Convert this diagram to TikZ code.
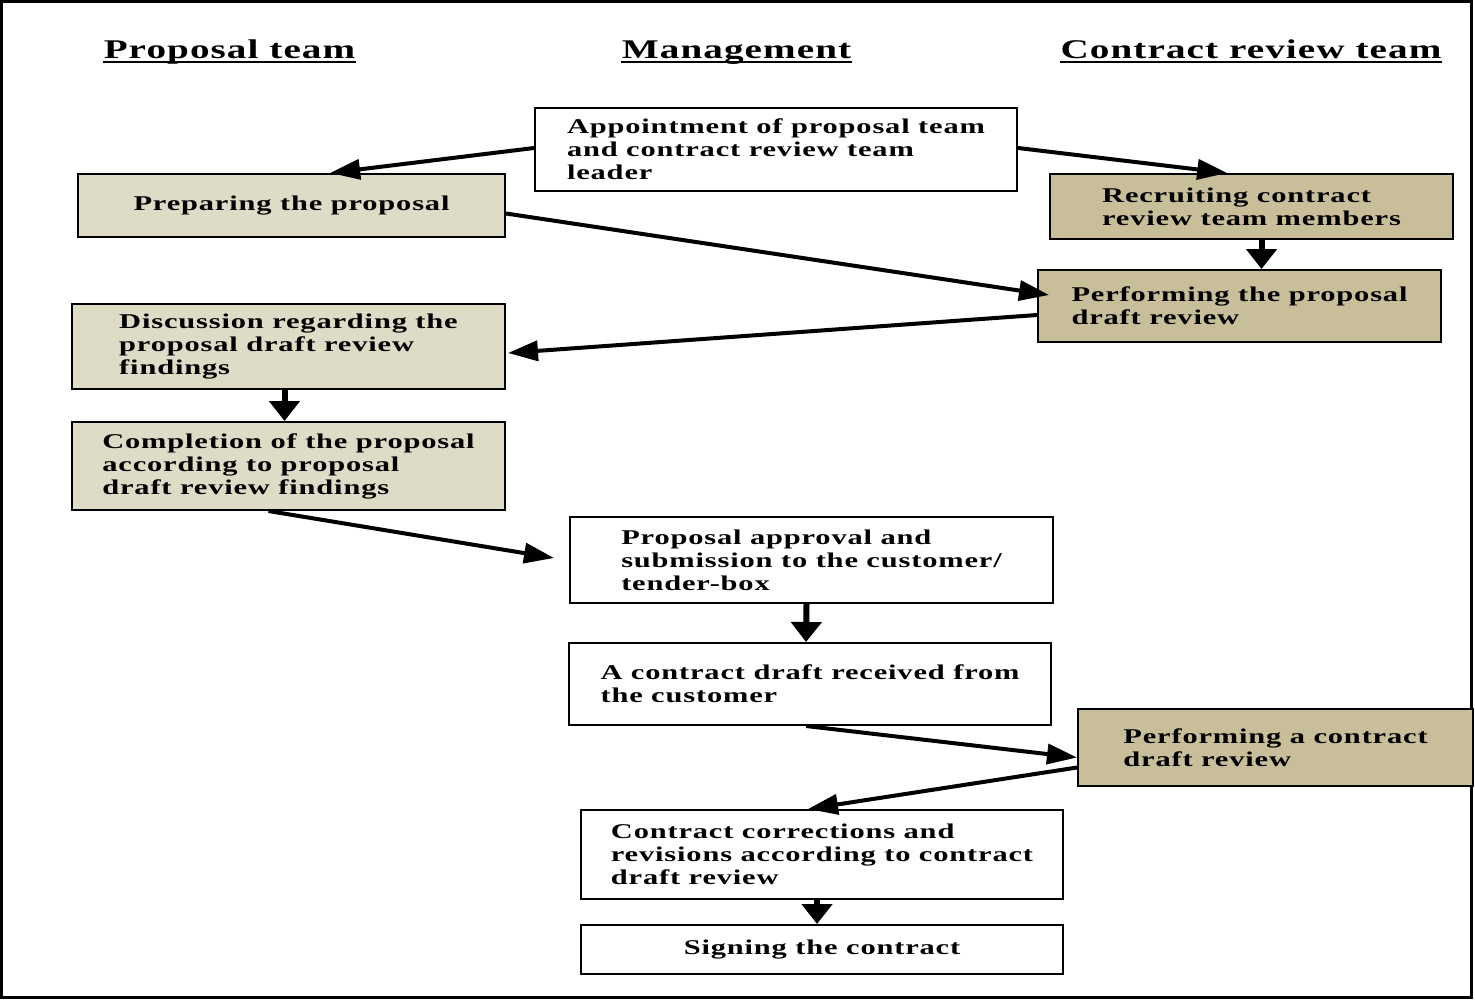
\documentclass[tikz,border=0pt]{standalone}
\usepackage{fontspec}
\setmainfont{Liberation Serif}[FakeStretch=1.45,LetterSpace=4]
\usetikzlibrary{arrows.meta,positioning,calc}
\definecolor{lightkhaki}{RGB}{222,219,198}
\definecolor{darkkhaki}{RGB}{200,191,154}

\begin{document}
\begin{tikzpicture}[x=0.5pt,y=-0.5pt,
    box/.style={draw, line width=1pt, align=left, inner sep=0pt,
        font=\bfseries\fontsize{10.5}{11.5}\selectfont},
    head/.style={inner sep=0pt, anchor=base, font=\bfseries\fontsize{13.5}{15}\selectfont},
    flowh/.style={line width=2pt, -{Triangle[length=15pt,width=10pt]}},
    flowv/.style={line width=3pt, -{Triangle[length=10pt,width=15pt]}}]

        % page and frame
        \fill[white] (0,0) rectangle (1475,1000);
        \useasboundingbox (0,0) rectangle (1475,1000);
        \draw[line width=1.5pt] (1.5,1.5) rectangle (1471,997);

        % column headings
        \node[head] (hdrprop) at (229.5,59) {Proposal team};
        \node[head] (hdrmgmt) at (736.5,59) {Management};
        \node[head] (hdrcrt) at (1251,59) {Contract review team};
        \foreach \h in {hdrprop,hdrmgmt,hdrcrt}
            \draw[line width=0.8pt] ($(\h.base west)+(0,3)$) -- ($(\h.base east)+(0,3)$);

        % management
        \node[box, fill=white, minimum width=241pt, minimum height=41.5pt] (appoint) at (776,149.5)
            {Appointment of proposal team\\and contract review team\\leader};
        \node[box, fill=white, minimum width=241.5pt, minimum height=43pt] (approve) at (811.5,560)
            {Proposal approval and\\submission to the customer/\\tender-box};
        \node[box, fill=white, minimum width=241pt, minimum height=41pt] (received) at (810,684)
            {A contract draft received from\\the customer};
        \node[box, fill=white, minimum width=241pt, minimum height=44.5pt] (correct) at (822,854.5)
            {Contract corrections and\\revisions according to contract\\draft review};
        \node[box, fill=white, minimum width=241pt, minimum height=24.5pt] (sign) at (822,949.5)
            {Signing the contract};

        % proposal team
        \node[box, fill=lightkhaki, minimum width=213.5pt, minimum height=31.5pt] (prep) at (291.5,205.5)
            {Preparing the proposal};
        \node[box, fill=lightkhaki, minimum width=216.5pt, minimum height=42.5pt] (discuss) at (288.5,346.5)
            {Discussion regarding the\\proposal draft review\\findings};
        \node[box, fill=lightkhaki, minimum width=216.5pt, minimum height=44pt] (complete) at (288.5,466)
            {Completion of the proposal\\according to proposal\\draft review findings};

        % contract review team
        \node[box, fill=darkkhaki, minimum width=201.5pt, minimum height=32.5pt] (recruit) at (1251.5,206.5)
            {Recruiting contract\\review team members};
        \node[box, fill=darkkhaki, minimum width=201.5pt, minimum height=36pt] (perform) at (1239.5,306)
            {Performing the proposal\\draft review};
        \node[box, fill=darkkhaki, minimum width=197.5pt, minimum height=38.5pt] (contrrev) at (1275.5,747.5)
            {Performing a contract\\draft review};

        % arrows
        \draw[flowh] ($(appoint.west)+(0,-1.5)$) -- ($(prep.north west)!0.59!(prep.north east)$);
        \draw[flowh] ($(appoint.east)+(0,-1.5)$) -- ($(recruit.north west)!0.44!(recruit.north east)$);
        \draw[flowh] ($(prep.east)+(0,8)$) -- ($(perform.west)+(12,-11)$);
        \draw[flowv] ($(recruit.south)+(10,0)$) -- ($(perform.north)+(22,0)$);
        \draw[flowh] ($(perform.west)+(0,9)$) -- ($(discuss.east)+(2,6.5)$);
        \draw[flowv] ($(discuss.south)+(-4,0)$) -- ($(complete.north)+(-4,0)$);
        \draw[flowh] ($(complete.south)+(-20,0)$) -- ($(approve.west)+(-15,-2)$);
        \draw[flowv] ($(approve.south)+(-5,0)$) -- ($(received.north)+(-4,0)$);
        \draw[flowh] ($(received.south)+(-4,0)$) -- ($(contrrev.west)+(0,10)$);
        \draw[flowh] ($(contrrev.west)+(0,20)$) -- ($(correct.north)+(-14,0)$);
        \draw[flowv] ($(correct.south)+(-5,0)$) -- ($(sign.north)+(-5,0)$);

      \end{tikzpicture}
\end{document}
